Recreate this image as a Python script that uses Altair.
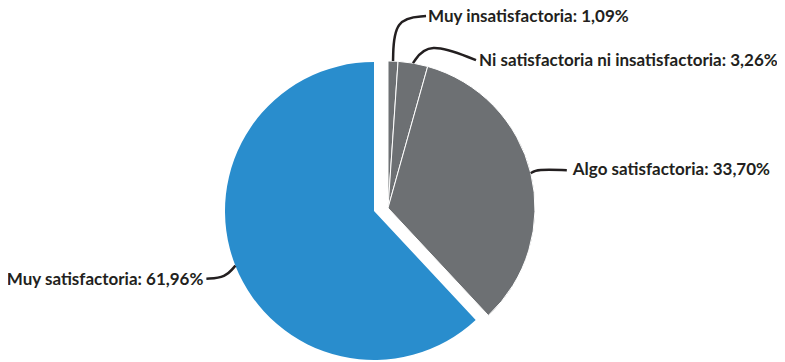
import math
import pandas as pd
import altair as alt

# ---- data ----
categories = [
    "Muy insatisfactoria",
    "Ni satisfactoria ni insatisfactoria",
    "Algo satisfactoria",
    "Muy satisfactoria",
]
values = [1.09, 3.26, 33.70, 61.96]
colors = ["#6d7073", "#6d7073", "#6d7073", "#298dcd"]

# ---- layout (pixels, chart coordinates) ----
pie_center = (380, 200)
pie_radius = 147
explode_center = (366, 203)
explode_radius = 149
exploded = [False, False, False, True]
leader_ctrl = [(1, -43), (15, -22), (6, -4), (-10, 12)]
leader_end = [(33, -45), (63, -3), (36, -3), (-29, 13)]
label_pos = [(35, -44.5), (66, -2), (42, -3), (-32, 14)]
label_align = ["left", "left", "left", "right"]
TEXT_COLOR = "#231f20"

total = sum(values)

pie_df = pd.DataFrame({"category": categories, "value": values, "order": range(len(values))})

# anchors on the slice edges from the slice mid angles
leader_rows, label_rows = [], []
cum = 0.0
for i, (c, v) in enumerate(zip(categories, values)):
    mid = (cum + v / 2) / total * 2 * math.pi
    cum += v
    cx, cy = explode_center if exploded[i] else pie_center
    r = explode_radius if exploded[i] else pie_radius
    ax = cx + r * math.sin(mid)
    ay = cy - r * math.cos(mid)
    pts = [(0, 0), leader_ctrl[i], leader_end[i]]
    for k, (dx, dy) in enumerate(pts):
        leader_rows.append({"category": c, "idx": k, "px": ax + dx, "py": ay + dy})
    label_rows.append({
        "category": c,
        "value": v,
        "tx": ax + label_pos[i][0],
        "ty": ay + label_pos[i][1],
        "align": label_align[i],
    })
leader_df = pd.DataFrame(leader_rows)
label_df = pd.DataFrame(label_rows)

theta_scale = alt.Scale(domain=[0, total], range=[0, 2 * math.pi])
color_enc = alt.Color("category:N", scale=alt.Scale(domain=categories, range=colors), legend=None)

base = (
    alt.Chart(pie_df)
    .transform_window(cum="sum(value)", sort=[alt.SortField("order")], frame=[None, 0])
    .transform_calculate(start="datum.cum - datum.value")
)

normal_cats = [c for c, e in zip(categories, exploded) if not e]
exploded_cats = [c for c, e in zip(categories, exploded) if e]

gray = (
    base.transform_filter(alt.FieldOneOfPredicate(field="category", oneOf=normal_cats))
    .mark_arc(radius=pie_radius, stroke="white", strokeWidth=1)
    .encode(
        theta=alt.Theta("start:Q", scale=theta_scale),
        theta2="cum:Q",
        color=color_enc,
        x=alt.value(pie_center[0]),
        y=alt.value(pie_center[1]),
    )
)

blue = (
    base.transform_filter(alt.FieldOneOfPredicate(field="category", oneOf=exploded_cats))
    .mark_arc(radius=explode_radius)
    .encode(
        theta=alt.Theta("start:Q", scale=theta_scale),
        theta2="cum:Q",
        color=color_enc,
        x=alt.value(explode_center[0]),
        y=alt.value(explode_center[1]),
    )
)

leaders = (
    alt.Chart(leader_df)
    .mark_line(interpolate="basis", strokeWidth=2.5, color=TEXT_COLOR)
    .encode(
        x=alt.X("px:Q", scale=None, axis=None),
        y=alt.Y("py:Q", scale=None, axis=None),
        detail="category:N",
        order="idx:O",
    )
)

def label_layer(align):
    return (
        alt.Chart(label_df)
        .transform_filter(alt.datum.align == align)
        .transform_calculate(
            label="datum.category + ': ' + replace(format(datum.value, '.2f'), '.', ',') + '%'"
        )
        .mark_text(align=align, baseline="middle", font="Lato", fontSize=17,
                   fontWeight="bold", color=TEXT_COLOR)
        .encode(
            x=alt.X("tx:Q", scale=None, axis=None),
            y=alt.Y("ty:Q", scale=None, axis=None),
            text="label:N",
        )
    )

chart = (
    alt.layer(gray, blue, leaders, label_layer("left"), label_layer("right"))
    .properties(width=769, height=354, padding=0, autosize=alt.AutoSizeParams(type="none"))
    .configure_view(stroke=None)
)

chart.save("out.html", embed_options={"renderer": "svg", "actions": False})
